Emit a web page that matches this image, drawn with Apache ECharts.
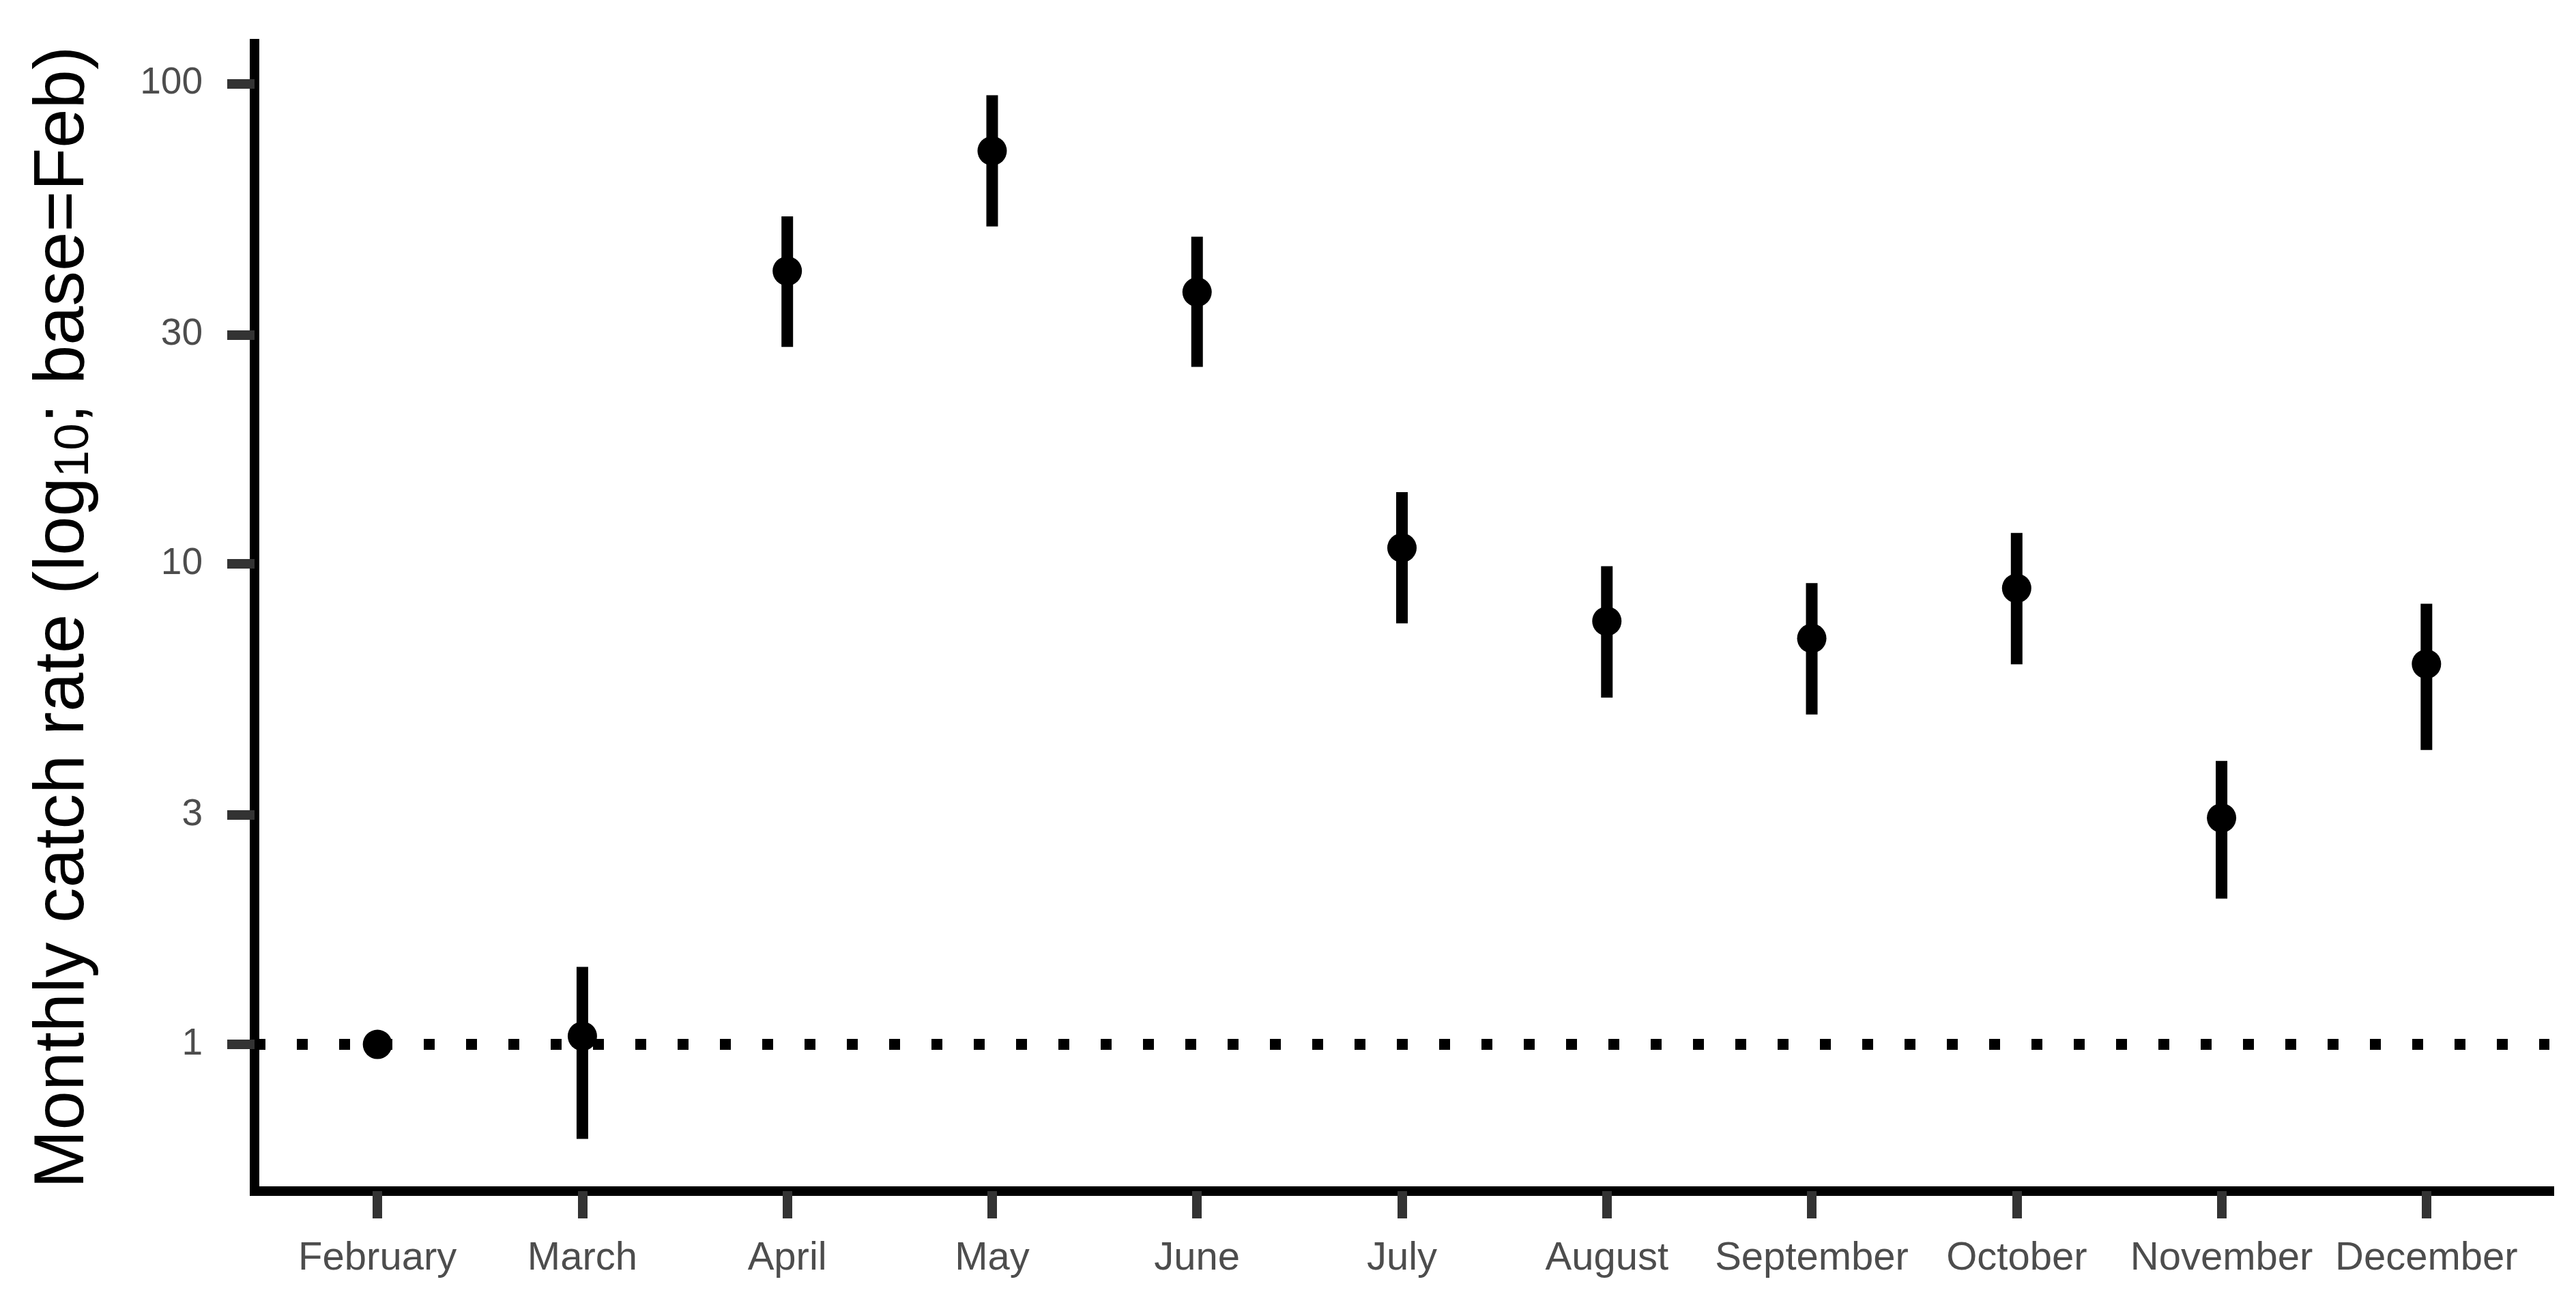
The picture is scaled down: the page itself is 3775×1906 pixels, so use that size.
<!DOCTYPE html>
<html>
<head>
<meta charset="utf-8">
<script src="https://cdn.jsdelivr.net/npm/echarts@6/dist/echarts.min.js"></script>
<style>
  html, body { margin: 0; padding: 0; background: #fff; }
  #chart { width: 3775px; height: 1906px; }
</style>
</head>
<body>
<div id="chart"></div>
<script>
// months on the x axis
const months = ['February', 'March', 'April', 'May', 'June', 'July', 'August',
  'September', 'October', 'November', 'December'];
// catch rate relative to February, with interval bounds (Feb is the base, no interval)
const rate = [1, 1.04, 40.7, 72.4, 36.8, 10.8, 7.6, 7.0, 8.9, 2.96, 6.19];
const lower = [null, 0.636, 28.3, 50.4, 25.7, 7.52, 5.27, 4.86, 6.18, 2.01, 4.10];
const upper = [null, 1.45, 52.9, 94.5, 48.0, 14.1, 9.89, 9.12, 11.6, 3.89, 8.26];
const yTicks = [1, 3, 10, 30, 100];
const baseLine = 1;

const font = '"Liberation Sans", Arial, sans-serif';

const pointData = months.map((m, i) => [i, rate[i]]);
const barData = [];
months.forEach((m, i) => {
  if (lower[i] != null) barData.push([i, lower[i], upper[i]]);
});

const chart = echarts.init(document.getElementById('chart'), null, { renderer: 'canvas' });

const option = {
  backgroundColor: '#ffffff',
  animation: false,
  grid: { left: 373, right: 39, top: 64, bottom: 161, containLabel: false },
  xAxis: {
    type: 'value',
    min: -0.6,
    max: 10.6,
    splitLine: { show: false },
    axisLine: { show: true, onZero: false, lineStyle: { color: '#000', width: 14, cap: 'square' } },
    axisTick: {
      show: true, length: 40, customValues: months.map((m, i) => i),
      lineStyle: { color: '#333333', width: 14 },
    },
    axisLabel: {
      customValues: months.map((m, i) => i),
      formatter: (v) => months[Math.round(v)],
      color: '#4d4d4d', fontSize: 58, fontFamily: font, margin: 70,
    },
  },
  yAxis: {
    type: 'log',
    min: 0.495,
    max: 121,
    splitLine: { show: false },
    axisLine: { show: true, onZero: false, lineStyle: { color: '#000', width: 14, cap: 'square' } },
    axisTick: {
      show: true, length: 40, customValues: yTicks,
      lineStyle: { color: '#333333', width: 14 },
    },
    axisLabel: {
      customValues: yTicks,
      formatter: (v) => String(Math.round(v)),
      color: '#4d4d4d', fontSize: 55, fontFamily: font, margin: 76,
    },
    name: '{a|Monthly catch rate (log}{s|10}{a|; base=Feb)}',
    nameLocation: 'middle',
    nameRotate: 90,
    nameGap: 228,
    nameTextStyle: {
      color: '#000',
      fontFamily: font,
      rich: {
        a: { fontSize: 103, lineHeight: 129, verticalAlign: 'bottom', color: '#000', fontFamily: font },
        s: { fontSize: 71, lineHeight: 71, verticalAlign: 'bottom', color: '#000', fontFamily: font },
      },
    },
  },
  series: [
    {
      type: 'line',
      data: [],
      markLine: {
        silent: true,
        symbol: 'none',
        label: { show: false },
        lineStyle: { color: '#000', width: 16, type: [16, 46], cap: 'butt' },
        data: [{ yAxis: baseLine }],
      },
    },
    {
      type: 'custom',
      data: barData,
      encode: { x: 0, y: [1, 2] },
      renderItem(params, api) {
        const x = api.value(0);
        const lo = api.coord([x, api.value(1)]);
        const hi = api.coord([x, api.value(2)]);
        return {
          type: 'line',
          shape: { x1: lo[0], y1: lo[1], x2: hi[0], y2: hi[1] },
          style: { stroke: '#000', lineWidth: 17, lineCap: 'butt' },
        };
      },
      z: 3,
    },
    {
      type: 'scatter',
      data: pointData,
      symbol: 'circle',
      symbolSize: 43,
      itemStyle: { color: '#000', opacity: 1 },
      z: 4,
    },
  ],
};

chart.setOption(option);
</script>
</body>
</html>
